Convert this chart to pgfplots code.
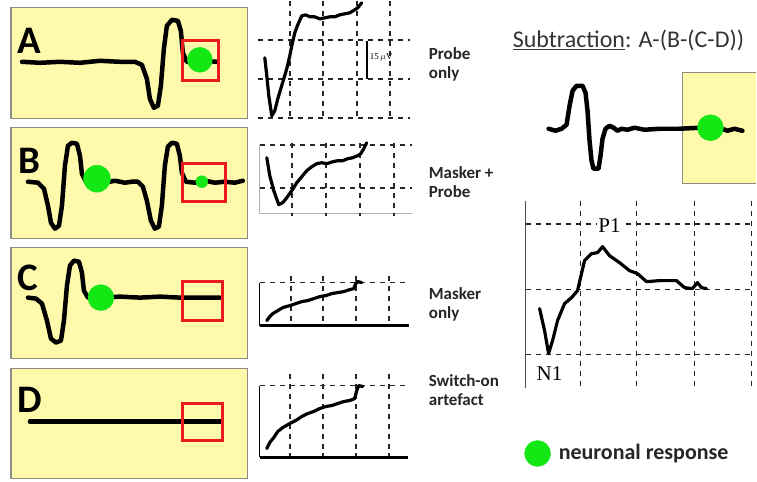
\documentclass[border=0pt]{standalone}
\usepackage{pgfplots}
\pgfplotsset{compat=1.18}
\usepackage{fontspec}
\setmainfont{Carlito}
\newfontfamily\seriffont{Liberation Serif}
\definecolor{boxyellow}{RGB}{255,249,172}
\definecolor{boxedge}{RGB}{140,140,130}
\definecolor{neuro}{RGB}{20,232,20}
\definecolor{redbox}{RGB}{232,28,28}
\tikzset{
  trace/.style={black, line width=4.5pt, line join=round, line cap=round},
  gtrace/.style={black, line width=3.2pt, line join=round, line cap=round},
  gridl/.style={black!85, line width=1.7pt, dash pattern=on 5pt off 5pt},
  ybox/.style={fill=boxyellow, draw=boxedge, line width=1.2pt},
  rbox/.style={draw=redbox, line width=2.8pt},
}
\newcommand{\hl}[3]{\addplot[gridl] coordinates {(#1,#3)(#2,#3)};}
\newcommand{\vl}[3]{\addplot[gridl] coordinates {(#3,#1)(#3,#2)};}
\newcommand{\rect}[5]{\addplot[#1] coordinates {(#2,#3)(#4,#3)(#4,#5)(#2,#5)} -- cycle;}
\begin{document}
\begin{tikzpicture}
\begin{axis}[width=757pt,height=481pt,scale only axis,hide axis,
  xmin=0,xmax=757,ymin=0,ymax=481,y dir=reverse,clip=false]
% background
\addplot[fill=white,draw=none] coordinates {(0,0)(757,0)(757,481)(0,481)} -- cycle;

% ---------- left panels ----------
\rect{ybox}{11}{7}{248}{118}
\rect{ybox}{11}{127}{248}{238}
\rect{ybox}{11}{247}{248}{358}
\rect{ybox}{11}{368}{248}{478}

% trace A
\addplot[trace] coordinates {(22,61)(40,62)(60,61)(80,62)(100,60)(120,61)(135,61)(142,64)(147,78)(150,98)(154,107)(158,105)(161,85)(164,48)(167,25)(172,19)(178,20)(181,30)(183,52)(187,61)(195,61)(205,60)(217,61)};
\rect{rbox}{183}{40}{219}{80}
\addplot[only marks,mark=*,mark size=12.5pt,color=neuro] coordinates {(200,59)};

% trace B
\addplot[trace] coordinates {(28,181)(38,182)(44,188)(48,205)(51,222)(55,228)(59,225)(62,205)(65,165)(68,145)(72,142)(77,143)(80,155)(82,173)(86,181)(95,181)(105,182)(115,180)(125,182)(132,181)(138,181)(143,186)(147,200)(151,220)(155,228)(159,226)(162,205)(165,165)(168,146)(172,142)(177,143)(180,155)(182,172)(186,181)(195,182)(205,180)(215,182)(225,181)(235,182)(243,180)};
\addplot[only marks,mark=*,mark size=13.5pt,color=neuro] coordinates {(97,178)};
\rect{rbox}{183}{163}{226}{201}
\addplot[only marks,mark=*,mark size=6pt,color=neuro] coordinates {(202,181)};

% trace C
\addplot[trace] coordinates {(28,297)(36,298)(42,303)(47,320)(51,338)(56,342)(61,340)(64,320)(67,285)(70,265)(74,260)(79,261)(82,272)(84,290)(88,297)(100,297)(120,296)(140,297)(160,296)(180,297)(200,297)(220,297)};
\addplot[only marks,mark=*,mark size=13pt,color=neuro] coordinates {(101,297)};
\rect{rbox}{183}{281}{223}{320}

% trace D
\addplot[trace] coordinates {(30,421)(221,421)};
\rect{rbox}{183}{403}{223}{440}

\node[anchor=base west,inner sep=0,font=\fontsize{39}{40}\selectfont\bfseries] at (axis cs:17,53) {A};
\node[anchor=base west,inner sep=0,font=\fontsize{39}{40}\selectfont\bfseries] at (axis cs:18,173) {B};
\node[anchor=base west,inner sep=0,font=\fontsize{39}{40}\selectfont\bfseries] at (axis cs:17,290) {C};
\node[anchor=base west,inner sep=0,font=\fontsize{39}{40}\selectfont\bfseries] at (axis cs:17,412) {D};

% ---------- middle graphs ----------
% graph A
\hl{258}{410}{39}\hl{258}{410}{78}\hl{258}{410}{117}
\vl{0}{117}{290}\vl{0}{117}{323}\vl{0}{117}{357}\vl{0}{117}{390}
\addplot[gtrace] coordinates {(265,57)(267,75)(269,95)(272,115)(275,110)(278,98)(281,88)(284,78)(287,68)(290,55)(292,45)(295,32)(298,24)(302,15)(306,14)(310,16)(315,16)(320,18)(325,17)(330,16)(335,16)(340,14)(345,13)(350,12)(355,9)(358,7)(362,2)};
\addplot[black,line width=1.8pt] coordinates {(367,40)(367,78)};
\node[anchor=west,inner sep=0,font=\seriffont\fontsize{9}{10}\selectfont] at (axis cs:370,57) {15$\,\mu$V};

% graph B
\addplot[black!30,line width=1pt] coordinates {(260,144)(260,213)(412,213)};
\hl{260}{412}{144}\hl{260}{412}{187}
\vl{142}{215}{292}\vl{142}{215}{326}\vl{142}{215}{360}\vl{142}{215}{394}
\addplot[gtrace] coordinates {(267,157)(270,175)(274,190)(279,204)(283,202)(287,197)(292,190)(297,182)(302,176)(307,170)(312,166)(317,163)(322,162)(327,163)(333,161)(338,160)(343,160)(348,158)(353,157)(358,155)(361,153)(364,148)(367,142)};

% graph C
\hl{260}{409}{282}
\vl{275}{325}{291}\vl{275}{325}{323}\vl{275}{325}{356}\vl{275}{325}{389}
\addplot[black,line width=1pt] coordinates {(260,282)(260,325)};
\addplot[black,line width=2.2pt] coordinates {(260,325)(409,325)};
\addplot[gtrace] coordinates {(267,320)(270,316)(273,313)(278,310)(283,307)(290,305)(296,303)(302,301)(308,300)(314,298)(320,296)(326,295)(332,293)(338,292)(344,291)(350,289)(354,288)(356,283)(358,281)(362,282)};

% graph D
\hl{260}{408}{385}
\vl{373}{457}{290}\vl{373}{457}{323}\vl{373}{457}{356}\vl{373}{457}{389}
\addplot[black,line width=1pt] coordinates {(260,385)(260,457)};
\addplot[black,line width=2.8pt] coordinates {(260,457)(408,457)};
\addplot[gtrace] coordinates {(267,448)(270,442)(274,437)(278,431)(283,427)(290,423)(296,420)(302,416)(308,413)(314,411)(320,408)(326,406)(332,405)(338,403)(344,401)(350,400)(355,398)(357,390)(359,385)(363,386)};

% labels
\node[anchor=north west,inner sep=0,align=left,font=\fontsize{17}{19}\selectfont\bfseries,text=black!85] at (axis cs:429,47) {Probe\\only};
\node[anchor=north west,inner sep=0,align=left,font=\fontsize{17}{19}\selectfont\bfseries,text=black!85] at (axis cs:429,166) {Masker +\\Probe};
\node[anchor=north west,inner sep=0,align=left,font=\fontsize{17}{19}\selectfont\bfseries,text=black!85] at (axis cs:429,287) {Masker\\only};
\node[anchor=north west,inner sep=0,align=left,font=\fontsize{17}{19}\selectfont\bfseries,text=black!85] at (axis cs:429,374) {Switch-on\\artefact};

% ---------- right side ----------
\node[anchor=base west,inner sep=0,font=\fontsize{24}{26}\selectfont,text=black!80] at (axis cs:513,47) {\underline{Subtraction}: A-(B-(C-D))};
\addplot[ybox] coordinates {(757,72)(683,72)(683,183)(757,183)};
\addplot[fill=boxyellow,draw=none] coordinates {(684,73)(757,73)(757,182)(684,182)} -- cycle;
\addplot[trace] coordinates {(549,128)(556,130)(562,128)(567,124)(570,105)(573,90)(577,85)(583,85)(586,92)(588,110)(590,140)(592,160)(594,168)(599,168)(601,155)(603,138)(606,128)(610,125)(614,127)(618,130)(622,128)(628,129)(635,127)(645,129)(660,128)(680,128)(700,127)(720,127)(728,130)(735,128)(743,130)};
\addplot[only marks,mark=*,mark size=13pt,color=neuro] coordinates {(711,127)};

% big graph
\addplot[black!70,line width=1pt] coordinates {(526,200)(526,387)};
\hl{526}{755}{223}\hl{526}{755}{289}\hl{526}{755}{354}
\vl{200}{387}{581}\vl{200}{387}{637}\vl{200}{387}{695}\vl{200}{387}{752}
\addplot[gtrace] coordinates {(540,308)(545,330)(549,353)(553,340)(558,320)(565,303)(572,297)(578,290)(581,277)(585,260)(592,253)(598,252)(603,246)(610,255)(620,262)(630,270)(638,273)(647,281)(660,280)(677,280)(685,287)(693,288)(698,282)(702,287)(707,288)};
\node[fill=white,inner sep=1pt,font=\seriffont\fontsize{21}{22}\selectfont] at (axis cs:610,225) {P1};
\node[inner sep=1pt,font=\seriffont\fontsize{21}{22}\selectfont] at (axis cs:550,373) {N1};

% legend
\addplot[only marks,mark=*,mark size=13pt,color=neuro] coordinates {(538,453)};
\node[anchor=west,inner sep=0,font=\fontsize{22}{24}\selectfont\bfseries,text=black!85] at (axis cs:559,453) {neuronal response};
\end{axis}
\end{tikzpicture}
\end{document}
